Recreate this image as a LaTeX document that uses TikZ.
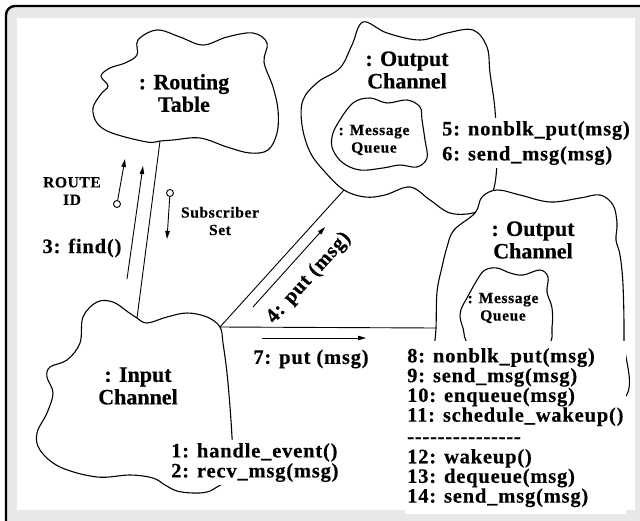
\documentclass[tikz,border=0pt]{standalone}
\usepackage{fontspec}
\setmainfont{Liberation Serif}[BoldFeatures={FakeBold=0.4}]
\newfontfamily\lblfont{Liberation Serif}[LetterSpace=4, BoldFeatures={FakeBold=0.4}]
\usetikzlibrary{arrows.meta}
\definecolor{framegray}{HTML}{E8E8E8}
\newcommand\hy{\mbox{-}\kern0.8pt}
\begin{document}
\begin{tikzpicture}[x=1pt,y=-1pt,
  cloudline/.style={line width=1.1pt, line join=round},
  link/.style={line width=0.9pt},
  msgarrow/.style={line width=0.9pt, -{Triangle[length=8pt,width=4.5pt]}},
  title/.style={font=\fontsize{22}{22.5}\selectfont\bfseries, align=center, inner sep=0pt},
  small/.style={font=\lblfont\fontsize{15.5}{17.5}\selectfont\bfseries, align=center, inner sep=0pt},
  msgs/.style={font=\lblfont\fontsize{20.5}{18.3}\selectfont\bfseries, align=left, fill=white, inner xsep=2pt, inner ysep=3pt, anchor=north west},
  lbl/.style={font=\lblfont\fontsize{20.5}{22}\selectfont\bfseries, inner sep=1pt},
  tokencircle/.style={circle, draw, line width=0.9pt, fill=white, minimum size=7pt, inner sep=0pt}
]
\useasboundingbox (0,0) rectangle (640,520);

% frame
\draw[line width=2.4pt, fill=framegray, rounded corners=9pt] (6,6) rectangle (660,540);
\fill[white] (17,18) rectangle (635,510);

% : Routing Table
\draw[cloudline] plot[smooth cycle, tension=0.6] coordinates {
 (138,40) (157,30) (180,37) (203,45) (227,37) (253,33) (267,43) (264,62) (273,87)
 (278,110) (277,133) (268,150) (250,153) (227,147) (200,138) (173,140) (160,141)
 (147,142) (112,133) (97,123) (93,108) (101,94) (108,86) (101,76) (110,68) (125,63) (137,55)};
\coordinate (rt-s) at (160,141);

% first : Output Channel
\draw[cloudline] plot[smooth cycle, tension=0.6] coordinates {
 (363,22) (387,33) (420,40) (447,33) (473,30) (487,47) (490,73) (495,110) (497,157)
 (494,188) (485,205) (473,213) (450,213) (430,200) (410,187) (385,195) (365,197)
 (344,190) (325,172) (310,152) (302,125) (303,100) (318,82) (340,68) (352,45)};
\coordinate (oc1-s) at (344,190);

% second : Output Channel, drawn over the first
\draw[cloudline, fill=white] plot[smooth cycle, tension=0.6] coordinates {
 (482,197) (497,190) (520,195) (550,202) (580,198) (600,195) (613,205) (617,223)
 (616,240) (620,255) (623,285) (624,340) (622,400) (530,405) (440,395) (434,360)
 (436,328) (437,292) (442,267) (447,247) (454,230) (475,213)};
\coordinate (oc2-w) at (436,328);

% message queues
\draw[cloudline, fill=white] plot[smooth cycle, tension=0.6] coordinates {
 (332,137) (338,123) (353,103) (370,98) (387,103) (407,100) (420,107) (422,120)
 (425,140) (427,158) (417,167) (400,165) (383,168) (360,170) (343,163) (333,150)};
\draw[cloudline, fill=white] plot[smooth cycle, tension=0.6] coordinates {
 (462,307) (467,298) (477,280) (485,270) (497,268) (510,273) (523,275) (540,270)
 (548,277) (547,292) (552,308) (552,327) (547,345) (505,352) (470,345) (463,328) (460,316)};

% : Input Channel
\draw[cloudline] plot[smooth cycle, tension=0.6] coordinates {
 (97,302) (113,302) (128,312) (137,318) (147,323) (167,317) (187,313) (207,317)
 (220,327) (223,343) (227,373) (230,407) (232,437) (233,462) (226,480) (217,487)
 (207,492) (193,493) (177,491) (165,485) (153,478) (130,475) (97,477) (60,467)
 (40,450) (37,433) (47,413) (53,393) (47,377) (50,367) (67,360) (80,343) (83,317)};
\coordinate (ic-n) at (137,318);
\coordinate (ic-e) at (220,327);

% links
\draw[link] (rt-s) -- (ic-n);
\draw[link] (ic-e) -- (oc1-s);
\draw[link] (ic-e) -- (oc2-w);

% message arrows
\coordinate (find-a) at (127,279);
\coordinate (find-b) at (143,166);
\draw[msgarrow] (find-a) -- (find-b);

\node[tokencircle] (rid) at (117,204) {};
\coordinate (rid-tip) at (125,159);
\draw[msgarrow] (rid) -- (rid-tip);

\node[tokencircle] (sset) at (170,193) {};
\coordinate (sset-tip) at (167,239);
\draw[msgarrow] (sset) -- (sset-tip);

\coordinate (put4-a) at (253,307);
\coordinate (put4-b) at (325,227);
\draw[msgarrow] (put4-a) -- (put4-b);

\coordinate (put7-a) at (262,338);
\coordinate (put7-b) at (366,338);
\draw[msgarrow] (put7-a) -- (put7-b);

% object names
\node[title] (rt-t) at (184,93) {: Routing\\Table};
\node[title] (oc1-t) at (407,70) {: Output\\Channel};
\node[title] (oc2-t) at (533,240) {: Output\\Channel};
\node[title] (ic-t) at (138,386) {: Input\\Channel};
\node[small] (mq1-t) at (374,140) {: Message\\Queue};
\node[small] (mq2-t) at (503,308) {: Message\\Queue};
\node[small] (rid-t) at (72,191) {ROUTE\\ID};
\node[small] (sset-t) at (220,221) {Subscriber\\Set};

% message labels
\node[lbl] (find-t) at (82,248) {3: find()};
\node[lbl, rotate=48] (put4-t) at (309,278) {4: put (msg)};
\node[lbl] (put7-t) at (311,359) {7: put (msg)};

\node[msgs, font=\lblfont\fontsize{20.5}{25}\selectfont\bfseries] (oc1-m) at (440,118)
  {5: nonblk\_put(msg)\\6: send\_msg(msg)};
\node[msgs, font=\lblfont\fontsize{20.5}{20}\selectfont\bfseries] (ic-m) at (169,440)
  {1: handle\_event()\\2: recv\_msg(msg)};
\node[msgs, inner ysep=7pt] (oc2-m) at (405,341)
  {8: nonblk\_put(msg)\\9: send\_msg(msg)\\10: enqueue(msg)\\11: schedule\_wakeup()\\[3pt]
   \hy\hy\hy\hy\hy\hy\hy\hy\hy\hy\hy\hy\hy\hy\hy\\[2pt]
   12: wakeup()\\13: dequeue(msg)\\14: send\_msg(msg)};
\end{tikzpicture}
\end{document}
